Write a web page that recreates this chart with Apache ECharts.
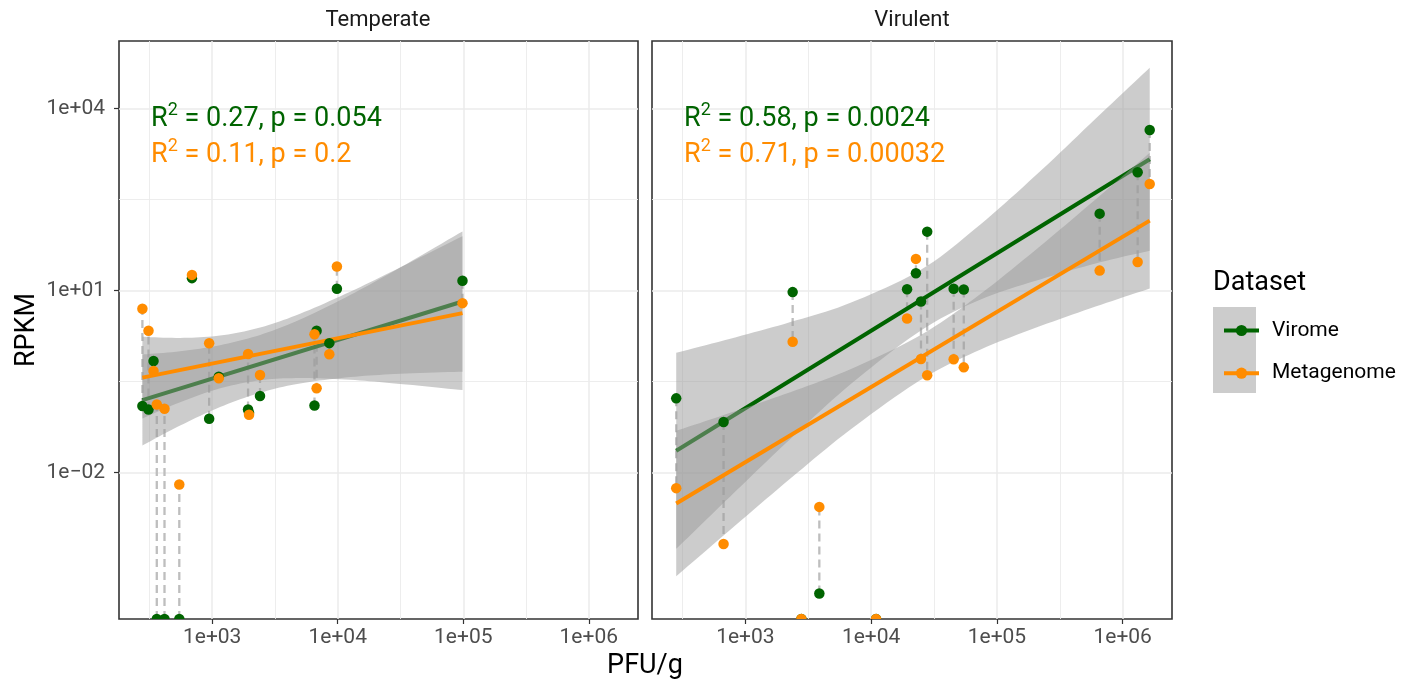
<!DOCTYPE html>
<html><head><meta charset="utf-8">
<script src="https://cdn.jsdelivr.net/npm/echarts@6/dist/echarts.min.js"></script>
<style>html,body{margin:0;padding:0;background:#fff}#c{width:1417px;height:687px}</style>
</head><body><div id="c"></div>
<script>
// ---------- data ----------
const panels = ['Temperate', 'Virulent'];
const seriesNames = ['Virome', 'Metagenome'];

// Temperate samples: PFU/g, RPKM in virome, RPKM in metagenome (0 = not detected)
const tempPFU    = [278, 311, 341, 362, 417, 547, 690, 946, 1128, 1931, 1966, 2404, 6530, 6790, 8570, 9850, 98600];
const tempVirome = [0.125, 0.110, 0.69, 0, 0, 0, 16.0, 0.0773, 0.381, 0.110, 0.097, 0.183, 0.128, 2.17, 1.36, 10.7, 14.5];
const tempMeta   = [5.0, 2.17, 0.474, 0.133, 0.113, 0.00637, 18.1, 1.355, 0.358, 0.903, 0.090, 0.406, 1.91, 0.245, 0.893, 24.8, 6.2];

// Virulent samples
const virPFU    = [282, 671, 2377, 2788, 3873, 10940, 19300, 22700, 24900, 27900, 45300, 54500, 656000, 1315000, 1640000];
const virVirome = [0.1675, 0.0682, 9.42, 0, 0.000102, 0, 10.5, 19.3, 6.59, 93.3, 10.7, 10.4, 184.6, 885, 4395];
const virMeta   = [0.00556, 0.00067, 1.43, 0, 0.00273, 0, 3.46, 33.2, 0.746, 0.402, 0.738, 0.543, 21.3, 29.6, 569];

// fitted lines (end points) and confidence bands
const tempFitX      = [278, 98600];
const tempFitVirome = [0.157, 6.59];
const tempFitMeta   = [0.368, 4.25];
const virFitX       = [282, 1640000];
const virFitVirome  = [0.0229, 1449];
const virFitMeta    = [0.0031, 141.6];

const tempBandX      = [278, 555, 1156, 2409, 5012, 12560, 31420, 98600];
const tempViromeHi   = [0.883, 1.0, 1.26, 1.86, 3.33, 8.43, 23.9, 94.2];
const tempViromeLo   = [0.0281, 0.0597, 0.1205, 0.207, 0.295, 0.375, 0.425, 0.461];
const tempMetaHi     = [1.73, 1.66, 1.81, 2.46, 4.15, 9.55, 24.0, 78.7];
const tempMetaLo     = [0.0782, 0.145, 0.245, 0.333, 0.362, 0.339, 0.290, 0.229];

const virBandX      = [282, 759, 2280, 6855, 25400, 74300, 224000, 673000, 1640000];
const virViromeHi   = [0.944, 1.61, 3.02, 6.28, 22.6, 124, 948, 8240, 46600];
const virViromeLo   = [0.000556, 0.00407, 0.0360, 0.286, 2.26, 7.11, 15.4, 29.4, 45.2];
const virMetaHi     = [0.0489, 0.0966, 0.212, 0.506, 1.91, 8.85, 55.3, 379, 1854];
const virMetaLo     = [0.000197, 0.00115, 0.0080, 0.0514, 0.348, 1.07, 2.62, 5.84, 10.8];

// correlation annotations
const r2Virome = ['0.27', '0.58'];
const pVirome  = ['0.054', '0.0024'];
const r2Meta   = ['0.11', '0.71'];
const pMeta    = ['0.2', '0.00032'];

// axes
const xTickValues = [1e3, 1e4, 1e5, 1e6];
const xTickLabels = ['1e+03', '1e+04', '1e+05', '1e+06'];
const xMinorGrid  = [316.2, 3162, 31623, 316228];
const yTickValues = [1e-2, 1e1, 1e4];
const yTickLabels = ['1e\u221202', '1e+01', '1e+04'];
const yMinorGrid  = [3.162e-4, 0.3162, 316.2];
const X_MIN = 181, X_MAX = 2.466e6;
const Y_MIN = 3.89e-5, Y_MAX = 1.288e5;

// ---------- styling ----------
const FONT = 'Roboto';
const GREEN = '#006400', ORANGE = '#FF8C00';
const RIBBON = 'rgba(153,153,153,0.5)';
const GRIDC = '#EBEBEB';

const panelData = [
  {pfu: tempPFU, vir: tempVirome, meta: tempMeta, fitX: tempFitX, fitV: tempFitVirome, fitM: tempFitMeta,
   bandX: tempBandX, vHi: tempViromeHi, vLo: tempViromeLo, mHi: tempMetaHi, mLo: tempMetaLo},
  {pfu: virPFU, vir: virVirome, meta: virMeta, fitX: virFitX, fitV: virFitVirome, fitM: virFitMeta,
   bandX: virBandX, vHi: virViromeHi, vLo: virViromeLo, mHi: virMetaHi, mLo: virMetaLo}
];

const grids = [
  {left: 119, top: 41, width: 519, height: 578},
  {left: 652, top: 41, width: 520, height: 578}
];

function fmt(values, labels) {
  return function (v) {
    const i = values.findIndex(t => Math.abs(Math.log10(t) - Math.log10(v)) < 1e-6);
    return i >= 0 ? labels[i] : '';
  };
}

// Catmull-Rom smoothing of a pixel polyline (rendering only, like line "smooth")
function smoothPts(pts) {
  const out = [];
  const n = pts.length;
  for (let i = 0; i < n - 1; i++) {
    const p0 = pts[Math.max(i - 1, 0)], p1 = pts[i], p2 = pts[i + 1], p3 = pts[Math.min(i + 2, n - 1)];
    const steps = 10;
    for (let s = 0; s < steps; s++) {
      const t = s / steps, t2 = t * t, t3 = t2 * t;
      const f = (a, b, c, d) => 0.5 * ((2 * b) + (-a + c) * t + (2 * a - 5 * b + 4 * c - d) * t2 + (-a + 3 * b - 3 * c + d) * t3);
      out.push([f(p0[0], p1[0], p2[0], p3[0]), f(p0[1], p1[1], p2[1], p3[1])]);
    }
  }
  out.push(pts[n - 1]);
  return out;
}

const chart = echarts.init(document.getElementById('c'), null, {renderer: 'canvas'});

const xAxes = grids.map((g, i) => ({
  type: 'log', logBase: 10, gridIndex: i, min: X_MIN, max: X_MAX,
  axisLine: {show: false}, splitLine: {show: false},
  axisTick: {show: true, customValues: xTickValues, length: 5, lineStyle: {color: '#333333', width: 1.2}},
  axisLabel: {customValues: xTickValues, formatter: fmt(xTickValues, xTickLabels), color: '#4D4D4D',
              fontSize: 21, fontFamily: FONT, margin: 8}
}));
const yAxes = grids.map((g, i) => ({
  type: 'log', logBase: 10, gridIndex: i, min: Y_MIN, max: Y_MAX,
  axisLine: {show: false}, splitLine: {show: false},
  axisTick: {show: i === 0, customValues: yTickValues, length: 5, lineStyle: {color: '#333333', width: 1.2}},
  axisLabel: {show: i === 0, customValues: yTickValues, formatter: fmt(yTickValues, yTickLabels), color: '#4D4D4D',
              fontSize: 21, fontFamily: FONT, margin: 14}
}));

function gridLineSeries(i) {
  const md = [];
  xTickValues.forEach(v => md.push({xAxis: v, lineStyle: {color: GRIDC, width: 1.5, type: 'solid'}}));
  xMinorGrid.forEach(v => md.push({xAxis: v, lineStyle: {color: GRIDC, width: 0.9, type: 'solid'}}));
  yTickValues.forEach(v => md.push({yAxis: v, lineStyle: {color: GRIDC, width: 1.5, type: 'solid'}}));
  yMinorGrid.forEach(v => md.push({yAxis: v, lineStyle: {color: GRIDC, width: 0.9, type: 'solid'}}));
  return {
    type: 'line', xAxisIndex: i, yAxisIndex: i, silent: true, z: 1,
    data: [[X_MIN, Y_MIN]], showSymbol: false, lineStyle: {opacity: 0},
    markLine: {silent: true, symbol: 'none', z: 1, animation: false, label: {show: false},
               emphasis: {disabled: true}, data: md}
  };
}

function segmentSeries(i, pd) {
  const data = pd.pfu.map((x, k) => [x, pd.vir[k] > 0 ? pd.vir[k] : Y_MIN, pd.meta[k] > 0 ? pd.meta[k] : Y_MIN]);
  return {
    type: 'custom', xAxisIndex: i, yAxisIndex: i, z: 2, silent: true, clip: true,
    data: data,
    renderItem: function (params, api) {
      const a = api.coord([api.value(0), api.value(1)]);
      const b = api.coord([api.value(0), api.value(2)]);
      return {type: 'line', shape: {x1: a[0], y1: a[1], x2: b[0], y2: b[1]},
              style: {stroke: '#BEBEBE', lineWidth: 2.3, lineDash: [8, 5]}};
    }
  };
}

function ribbonSeries(i, xs, lo, hi, z) {
  return {
    type: 'custom', xAxisIndex: i, yAxisIndex: i, z: z, silent: true, clip: true,
    data: xs.map((x, k) => [x, lo[k], hi[k]]),
    renderItem: function (params, api) {
      if (params.dataIndex !== 0) return null;
      const top = smoothPts(xs.map((x, k) => api.coord([x, hi[k]])));
      const bot = smoothPts(xs.map((x, k) => api.coord([x, lo[k]]))).reverse();
      return {type: 'polygon', shape: {points: top.concat(bot)}, style: {fill: RIBBON}};
    }
  };
}

function fitSeries(i, name, xs, ys, color, z) {
  return {
    type: 'line', name: name, xAxisIndex: i, yAxisIndex: i, z: z, silent: true,
    data: xs.map((x, k) => [x, ys[k]]), showSymbol: false, symbol: 'circle', symbolSize: 11,
    lineStyle: {color: color, width: 4}, itemStyle: {color: color}, clip: true
  };
}

function pointSeries(i, name, xs, ys, color, z) {
  const d = [];
  xs.forEach((x, k) => { if (ys[k] > 0) d.push([x, ys[k]]); });
  return {type: 'scatter', name: name, xAxisIndex: i, yAxisIndex: i, z: z, silent: true,
          data: d, symbol: 'circle', symbolSize: 10.5, itemStyle: {color: color, opacity: 1}};
}

function zeroSeries(i, xs, ys, color, z) {
  const d = [];
  xs.forEach((x, k) => { if (!(ys[k] > 0)) d.push([x, Y_MIN]); });
  return {
    type: 'custom', xAxisIndex: i, yAxisIndex: i, z: z, silent: true, clip: true, data: d,
    renderItem: function (params, api) {
      const c = api.coord([api.value(0), api.value(1)]);
      return {type: 'circle', shape: {cx: c[0], cy: c[1], r: 5.25}, style: {fill: color}};
    }
  };
}

const series = [];
panelData.forEach((pd, i) => {
  series.push(fitSeries(i, seriesNames[0], pd.fitX, pd.fitV, GREEN, 4));
  series.push(fitSeries(i, seriesNames[1], pd.fitX, pd.fitM, ORANGE, 6));
  series.push(gridLineSeries(i));
  series.push(segmentSeries(i, pd));
  series.push(ribbonSeries(i, pd.bandX, pd.vLo, pd.vHi, 3));
  series.push(ribbonSeries(i, pd.bandX, pd.mLo, pd.mHi, 5));
  series.push(pointSeries(i, seriesNames[0], pd.pfu, pd.vir, GREEN, 7));
  series.push(zeroSeries(i, pd.pfu, pd.vir, GREEN, 7));
  series.push(pointSeries(i, seriesNames[1], pd.pfu, pd.meta, ORANGE, 8));
  series.push(zeroSeries(i, pd.pfu, pd.meta, ORANGE, 8));
});

function statText(x, y, r2, p, color) {
  return {
    type: 'text', x: x, y: y, z: 20,
    style: {
      text: '{r|R}{s|2}{r| = ' + r2 + ', p = ' + p + '}',
      fill: color, align: 'left', verticalAlign: 'middle',
      rich: {
        r: {fontFamily: FONT, fontSize: 27, lineHeight: 36, fill: color, verticalAlign: 'middle'},
        s: {fontFamily: FONT, fontSize: 18, lineHeight: 19, fill: color, verticalAlign: 'top'}
      }
    }
  };
}

const graphics = [
  {type: 'text', x: 378, y: 20, style: {text: panels[0], fontFamily: FONT, fontSize: 22, fill: '#1A1A1A', align: 'center', verticalAlign: 'middle'}},
  {type: 'text', x: 912, y: 20, style: {text: panels[1], fontFamily: FONT, fontSize: 22, fill: '#1A1A1A', align: 'center', verticalAlign: 'middle'}},
  {type: 'text', x: 645, y: 666, style: {text: 'PFU/g', fontFamily: FONT, fontSize: 27, fill: '#000', align: 'center', verticalAlign: 'middle'}},
  {type: 'text', x: 27, y: 330, rotation: Math.PI / 2, style: {text: 'RPKM', fontFamily: FONT, fontSize: 27, fill: '#000', align: 'center', verticalAlign: 'middle'}},
  {type: 'text', x: 1213, y: 283, style: {text: 'Dataset', fontFamily: FONT, fontSize: 27, fill: '#000', align: 'left', verticalAlign: 'middle'}},
  {type: 'rect', shape: {x: 1213, y: 307, width: 43, height: 86}, style: {fill: '#CCCCCC'}, z: 0},
  statText(151, 119, r2Virome[0], pVirome[0], GREEN),
  statText(151, 155, r2Meta[0], pMeta[0], ORANGE),
  statText(684, 119, r2Virome[1], pVirome[1], GREEN),
  statText(684, 155, r2Meta[1], pMeta[1], ORANGE)
];

chart.setOption({
  animation: false,
  backgroundColor: '#FFFFFF',
  grid: grids.map(g => Object.assign({show: true, borderColor: '#333333', borderWidth: 1.6, backgroundColor: '#FFFFFF'}, g)),
  xAxis: xAxes,
  yAxis: yAxes,
  legend: {
    orient: 'vertical', left: 1217, top: 315, itemWidth: 35, itemHeight: 14, itemGap: 21.7,
    selectedMode: false, data: seriesNames,
    lineStyle: {width: 4},
    textStyle: {fontFamily: FONT, fontSize: 21, color: '#000', lineHeight: 14, padding: [0, 0, 0, 8]}
  },
  graphic: graphics,
  series: series
});
</script>
</body></html>
